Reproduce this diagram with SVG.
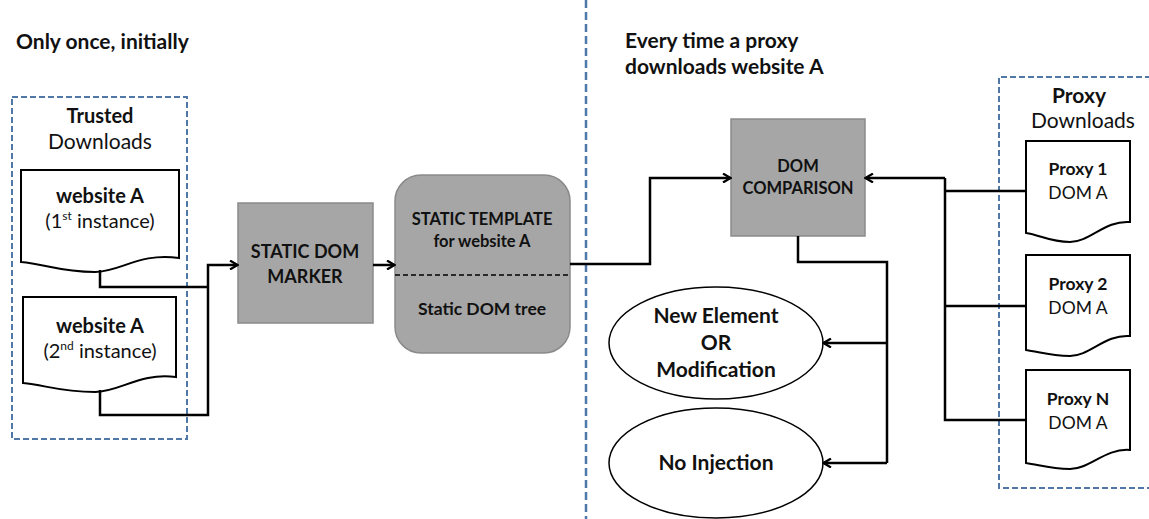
<svg xmlns="http://www.w3.org/2000/svg" width="1149" height="519" viewBox="0 0 1149 519">
<style>
text{font-family:Lato,"Open Sans","Liberation Sans",sans-serif;fill:#111;text-anchor:middle}
.b{font-weight:bold}
.h{font-size:21px;font-weight:bold;text-anchor:start}
.t16{font-size:16.5px}
.t17{font-size:17.5px}
.t18{font-size:18px}
.t20{font-size:20px}
.t21{font-size:21px}
.grp{fill:none;stroke:#4f78a8;stroke-width:2;stroke-dasharray:6 3}
.doc{fill:#fff;stroke:#000;stroke-width:2}
.gray{fill:#a6a6a6;stroke:#8a8a8a;stroke-width:1.5}
.ell{fill:#fff;stroke:#000;stroke-width:1.5}
.c{fill:none;stroke:#000;stroke-width:2.5}
.ca{fill:none;stroke:#000;stroke-width:2.5;marker-end:url(#ah)}
</style>
<defs>
<marker id="ah" markerWidth="10" markerHeight="10" refX="8" refY="5" orient="auto" markerUnits="userSpaceOnUse">
<path d="M1,0.5 L8.5,5 L1,9.5" fill="none" stroke="#000" stroke-width="2.2"/>
</marker>
</defs>

<line x1="586" y1="0" x2="586" y2="519" stroke="#4f78a8" stroke-width="2.5" stroke-dasharray="8 4"/>
<text class="h" x="16" y="49">Only once, initially</text>
<text class="h" x="625" y="48">Every time a proxy</text>
<text class="h" x="625" y="74">downloads website A</text>

<g id="trusted">
<rect x="12" y="97" width="175" height="342" class="grp"/>
<text class="b t20" x="100" y="123">Trusted</text>
<text class="t21" x="100" y="149">Downloads</text>
</g>
<g id="doc1">
<path class="doc" d="M21,170 H179 V258 C140,252 120,272 95,272 C60,272 45,264 21,262 Z"/>
<text class="b t20" x="100" y="203">website A</text>
<text class="t20" x="100" y="228">(1<tspan font-size="12" dy="-8">st</tspan><tspan dy="8"> instance)</tspan></text>
</g>
<g id="doc2">
<path class="doc" d="M23,297 H176 V377 C140,372 120,392 95,392 C60,392 45,385 23,383 Z"/>
<text class="b t20" x="100" y="333">website A</text>
<text class="t20" x="100" y="358">(2<tspan font-size="12" dy="-8">nd</tspan><tspan dy="8"> instance)</tspan></text>
</g>

<g id="marker">
<rect x="238" y="203" width="135" height="120" class="gray"/>
<text class="b t18" x="305" y="258">STATIC DOM</text>
<text class="b t18" x="305" y="283">MARKER</text>
</g>

<g id="template">
<rect x="395" y="175" width="175" height="178" rx="26" class="gray"/>
<line x1="395" y1="275" x2="570" y2="275" stroke="#000" stroke-width="1.5" stroke-dasharray="5 3"/>
<text class="b t16" x="482" y="225">STATIC TEMPLATE</text>
<text class="b t16" x="482" y="247">for website A</text>
<text class="b t17" x="482" y="315">Static DOM tree</text>
</g>

<g id="comparison">
<rect x="731" y="119" width="134" height="117" class="gray"/>
<text class="b t16" x="798" y="172">DOM</text>
<text class="b t16" x="798" y="194">COMPARISON</text>
</g>

<g id="newelement">
<ellipse cx="716" cy="343" rx="107" ry="56" class="ell"/>
<text class="b t21" x="716" y="323">New Element</text>
<text class="b t21" x="716" y="350">OR</text>
<text class="b t21" x="716" y="377">Modification</text>
</g>
<g id="noinjection">
<ellipse cx="716" cy="463" rx="107" ry="55" class="ell"/>
<text class="b t21" x="716" y="470">No Injection</text>
</g>

<g id="proxy">
<path class="grp" d="M1151,77 H999 V488 H1151"/>
<text class="b t21" x="1079" y="103">Proxy</text>
<text class="t21" x="1083" y="128">Downloads</text>
</g>
<g id="p1">
<path class="doc" d="M1026,141 H1130 V222 C1105,220 1090,242 1070,242 C1050,242 1040,235 1026,233 Z"/>
<text class="b t17" x="1078" y="175">Proxy 1</text>
<text class="t17" x="1078" y="199">DOM A</text>
</g>
<g id="p2">
<path class="doc" d="M1026,255 H1130 V336 C1105,334 1090,356 1070,356 C1050,356 1040,352 1026,350 Z"/>
<text class="b t17" x="1078" y="290">Proxy 2</text>
<text class="t17" x="1078" y="314">DOM A</text>
</g>
<g id="pn">
<path class="doc" d="M1026,370 H1130 V450 C1105,448 1090,469 1070,469 C1050,469 1040,465 1026,463 Z"/>
<text class="b t17" x="1078" y="405">Proxy N</text>
<text class="t17" x="1078" y="429">DOM A</text>
</g>

<g id="connectors">
<path class="c" d="M100,270 V287 H208"/>
<path class="ca" d="M100,390 V415 H208 V265 H237"/>
<path class="ca" d="M373,265 H394"/>
<path class="ca" d="M570,264 H650 V178 H730"/>
<path class="ca" d="M945,178 H866"/>
<path class="c" d="M945,178 V420 H1026 M945,191 H1026 M945,306 H1026"/>
<path class="c" d="M798,236 V262 H887 V463"/>
<path class="ca" d="M887,343 H824"/>
<path class="ca" d="M887,463 H824"/>
</g>
</svg>
